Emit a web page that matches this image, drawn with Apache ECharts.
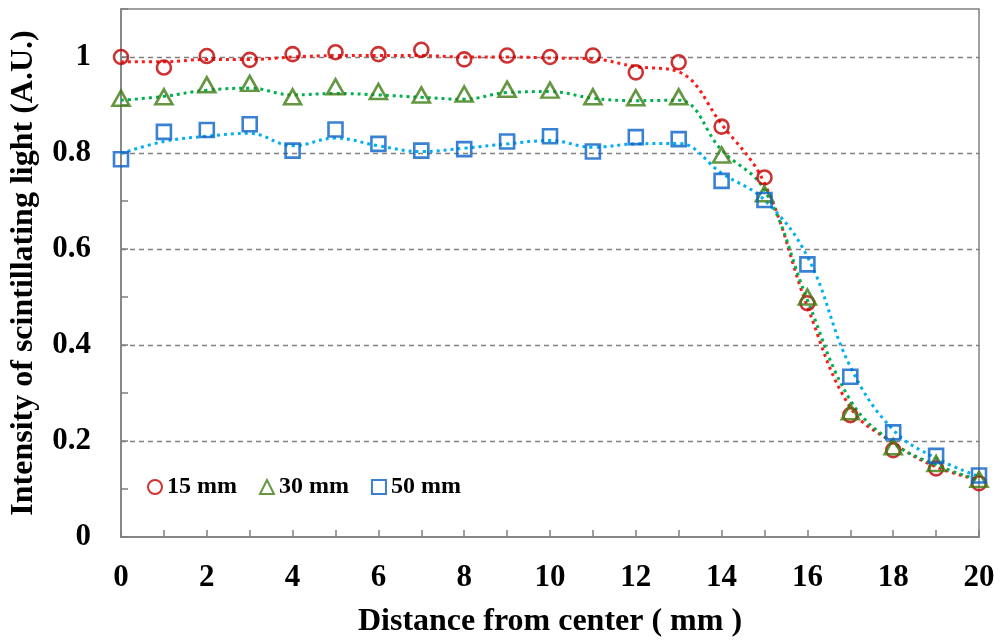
<!DOCTYPE html>
<html>
<head>
<meta charset="utf-8">
<script src="https://cdn.jsdelivr.net/npm/echarts@6/dist/echarts.min.js"></script>
<style>
html,body{margin:0;padding:0;background:#fff}
#chart{width:1000px;height:643px}
</style>
</head>
<body>
<div id="chart"></div>
<script>
/* Intensity of scintillating light vs distance from center */
const DIST = [...Array(21).keys()];

// measured points (markers)
const P15 = [1.000,0.978,1.002,0.994,1.006,1.010,1.006,1.015,0.995,1.003,1.000,1.003,0.968,0.989,0.855,0.749,0.487,0.254,0.181,0.143,0.112];
const P30 = [0.914,0.917,0.942,0.945,0.917,0.938,0.928,0.921,0.923,0.933,0.931,0.917,0.915,0.917,0.796,0.715,0.500,0.261,0.188,0.153,0.120];
const P50 = [0.787,0.844,0.848,0.860,0.805,0.849,0.819,0.805,0.808,0.824,0.835,0.803,0.833,0.829,0.742,0.702,0.568,0.334,0.218,0.169,0.128];

// dotted trend curves, read at each mm
const C15 = [0.990,0.990,0.995,0.995,1.000,1.003,1.003,1.003,1.000,1.000,0.998,0.996,0.980,0.969,0.860,0.737,0.480,0.270,0.196,0.146,0.119];
const C30 = [0.910,0.918,0.931,0.935,0.921,0.924,0.921,0.916,0.912,0.926,0.928,0.914,0.909,0.910,0.806,0.723,0.494,0.285,0.196,0.150,0.119];
const C50 = [0.799,0.824,0.835,0.841,0.815,0.831,0.815,0.803,0.810,0.819,0.826,0.812,0.819,0.820,0.758,0.702,0.584,0.355,0.223,0.164,0.126];

const SERIF = "'Liberation Serif','Times New Roman',serif";
const GRAY = "#808080";
const pairs = (arr) => arr.map((v,i)=>[DIST[i], v]);

const chart = echarts.init(document.getElementById("chart"));

function curve(name, data, col){
  return {name, type:"line", data:pairs(data), smooth:0.4, symbol:"none", z:2,
    lineStyle:{color:col, width:3, type:[3,4]}};
}
function marks(name, data, sym, col){
  return {name, type:"scatter", data:pairs(data), symbol:sym, symbolSize:sym==="triangle"?[17,15]:14, z:3,
    itemStyle:{color:"rgba(0,0,0,0)", borderColor:col, borderWidth:2.6}};
}

chart.setOption({
  animation:false,
  textStyle:{fontFamily:SERIF},
  grid:{left:121, top:9, right:21, bottom:106, show:true, borderColor:GRAY, borderWidth:1.5},
  legend:{
    data:["15 mm","30 mm","50 mm"], left:142, top:470, orient:"horizontal",
    itemWidth:14, itemHeight:14, itemGap:22,
    textStyle:{fontFamily:SERIF, fontWeight:"bold", fontSize:24, color:"#000"},
    itemStyle:{borderWidth:2}
  },
  xAxis:{
    type:"value", min:0, max:20, interval:1,
    name:"Distance from center ( mm )", nameLocation:"middle", nameGap:69,
    nameTextStyle:{fontFamily:SERIF, fontWeight:"bold", fontSize:32, color:"#000"},
    axisLine:{lineStyle:{color:GRAY, width:1.5}},
    axisTick:{inside:true, length:7, lineStyle:{color:GRAY, width:1.5}},
    axisLabel:{margin:25, fontFamily:SERIF, fontWeight:"bold", fontSize:31, color:"#000",
      formatter:v => v%2===0 ? String(v) : ""},
    splitLine:{show:false}
  },
  yAxis:[{
    type:"value", min:0, max:1.1, interval:0.1,
    name:"Intensity of scintillating light (A.U.)", nameLocation:"middle", nameGap:81, nameRotate:90,
    nameTextStyle:{fontFamily:SERIF, fontWeight:"bold", fontSize:32, color:"#000"},
    axisLine:{lineStyle:{color:GRAY, width:1.5}},
    axisTick:{inside:true, length:7, lineStyle:{color:GRAY, width:1.5}},
    axisLabel:{margin:30, fontFamily:SERIF, fontWeight:"bold", fontSize:31, color:"#000",
      formatter:v => { const k=Math.round(v*10); return (k%2===0 && k<=10) ? String(k/10) : ""; }},
    splitLine:{show:false}
  },{
    // grid lines only, every 0.2
    type:"value", min:0, max:1.1, interval:0.2, position:"left",
    axisLine:{show:false}, axisTick:{show:false}, axisLabel:{show:false},
    splitLine:{show:true, showMinLine:false, showMaxLine:false, lineStyle:{color:GRAY, width:1.3, type:[5,4]}}
  }],
  series:[
    curve("c15", C15, "#ff1a1a"),
    curve("c30", C30, "#00b050"),
    curve("c50", C50, "#00b0f0"),
    marks("15 mm", P15, "circle", "#c00000"),
    marks("30 mm", P30, "triangle", "#3f7d14"),
    marks("50 mm", P50, "rect", "#0a62c8")
  ]
});
</script>
</body>
</html>
